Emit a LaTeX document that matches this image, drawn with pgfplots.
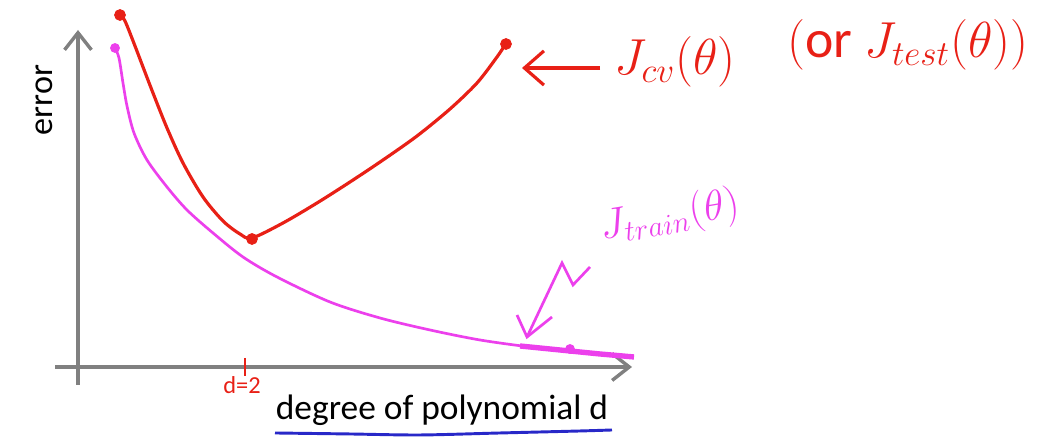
\documentclass[border=0pt]{standalone}
\usepackage{fontspec}
\setmainfont{Carlito}
\usepackage{pgfplots}
\pgfplotsset{compat=1.18}
\usetikzlibrary{arrows.meta}
\definecolor{cvred}{RGB}{232,32,22}
\definecolor{trmag}{RGB}{236,64,236}
\definecolor{axgray}{RGB}{128,128,128}
\definecolor{ulblue}{RGB}{40,40,200}
\begin{document}
\begin{tikzpicture}
\begin{axis}[name=ax,width=15cm,height=6.3195cm,scale only axis,
  xmin=0,xmax=1042,ymin=0,ymax=439,axis lines=none,clip=false]
% axes
\addplot[axgray,line width=1.4pt,-{Straight Barb[length=7pt,width=11pt,line width=1.4pt]}] coordinates {(78,54) (78,409)};
\addplot[axgray,line width=1.4pt,-{Straight Barb[length=7pt,width=11pt,line width=1.4pt]}] coordinates {(55,72) (632,72)};
% J_cv
\addplot[cvred,line width=1.3pt,smooth,tension=0.5] coordinates {
(120,424) (125,418) (135,393) (143,372) (153,346) (167,311) (183,276) (203,242) (223,218) (240,205) (252,201)
(283,216) (317,236) (350,257) (383,279) (417,303) (450,330) (477,356) (497,382) (505,394)};
\addplot[cvred,only marks,mark=*,mark size=2.2pt] coordinates {(120,424) (252,200) (506,395)};
% J_train
\addplot[trmag,line width=1.1pt,smooth,tension=0.5] coordinates {
(115,391) (119,381) (123,356) (127,333) (134,306) (147,279) (167,252) (187,229) (213,206) (243,182) (277,162) (330,137) (380,121) (430,109) (480,99) (530,92) (570,88) (630,82)};
\addplot[trmag,line width=2.2pt] coordinates {(520,93) (570,88) (600,85) (634,82)};
\addplot[trmag,only marks,mark=*,mark size=1.8pt] coordinates {(115,391) (570,90)};
% d=2 tick
\addplot[cvred,line width=0.8pt] coordinates {(245,81) (245,63)};
\node[cvred,font=\fontsize{10}{10}\selectfont] at (axis cs:242,54) {d=2};
% red arrow
\addplot[cvred,line width=1.3pt,-{Straight Barb[length=8pt,width=14pt,line width=1.3pt]}] coordinates {(600,371) (522,371)};
\node[cvred,font=\fontsize{22}{22}\selectfont] at (axis cs:675,377) {$J_{cv}(\theta)$};
\node[cvred,font=\fontsize{22}{22}\selectfont] at (axis cs:908,394) {$(\mathrm{or}\ J_{test}(\theta))$};
% train label and lightning arrow
\node[trmag,rotate=10,font=\fontsize{17}{17}\selectfont,inner sep=1pt] at (axis cs:670,222) {$J_{train}(\theta)$};
\addplot[trmag,line width=1.1pt] coordinates {(590,172) (573,154) (562,176) (527,102)};
\addplot[trmag,line width=1.1pt] coordinates {(517,124) (527,102) (552,122)};
% labels
\node[font=\fontsize{14}{14}\selectfont,rotate=90] at (axis cs:44,339) {error};
\node[font=\fontsize{14.5}{14.5}\selectfont] at (axis cs:442,29) {degree of polynomial d};
\addplot[ulblue,line width=1.2pt,smooth] coordinates {(275,6) (350,5) (420,4) (500,6) (580,8) (612,9)};
\end{axis}
\pgfresetboundingbox
\path[use as bounding box] (ax.south west) rectangle (ax.north east);
\end{tikzpicture}
\end{document}
